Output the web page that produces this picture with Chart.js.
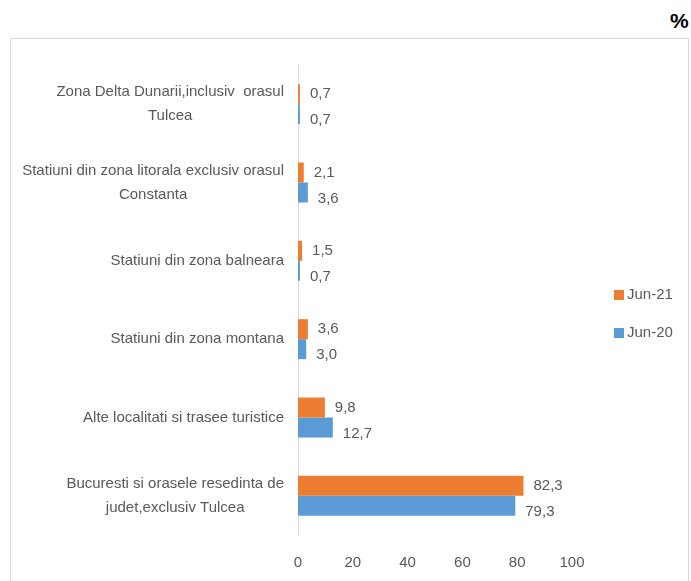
<!DOCTYPE html>
<html>
<head>
<meta charset="utf-8">
<script src="https://cdn.jsdelivr.net/npm/chart.js@4"></script>
<style>
  body { margin: 0; background: #fff; }
  #wrap { position: relative; width: 691px; height: 581px; overflow: hidden; }
  #frame { position: absolute; left: 10px; top: 38px; width: 677px; height: 600px; border: 1px solid #d9d9d9; }
  #pct { position: absolute; left: 670px; top: 9px; font: bold 21px "Liberation Sans", Arial, sans-serif; color: #000; }
  canvas { position: absolute; left: 0; top: 0; }
</style>
</head>
<body>
<div id="wrap">
  <div id="frame"></div>
  <div id="pct">%</div>
  <canvas id="chart" width="691" height="601"></canvas>
</div>
<script>
let categories = [
    ["Zona Delta Dunarii,inclusiv  orasul", "Tulcea"],
    ["Statiuni din zona litorala exclusiv orasul", "Constanta"],
    ["Statiuni din zona balneara"],
    ["Statiuni din zona montana"],
    ["Alte localitati si trasee turistice"],
    ["Bucuresti si orasele resedinta de", "judet,exclusiv Tulcea"]
];
let seriesNames = ["Jun-21", "Jun-20"];
let jun21 = [0.7, 2.1, 1.5, 3.6, 9.8, 82.3];
let jun20 = [0.7, 3.6, 0.7, 3.0, 12.7, 79.3];
let xTicks = [0, 20, 40, 60, 80, 100];

let textFont = '"Liberation Sans Narrow", "Arial Narrow", sans-serif';
let textColor = '#595959';

// etichete categorii (centrate pe randuri, aliniate la dreapta ca bloc)
const categoryLabels = {
    id: 'categoryLabels',
    afterDraw(chart) {
        let ctx = chart.ctx;
        let yScale = chart.scales.y;
        let right = chart.chartArea.left - 14;
        ctx.save();
        ctx.font = '15px ' + textFont;
        ctx.fillStyle = textColor;
        ctx.textBaseline = 'middle';
        ctx.textAlign = 'center';
        categories.forEach(function(lines, i) {
            let widest = Math.max.apply(null, lines.map(l => ctx.measureText(l).width));
            let cx = right - widest / 2;
            let cy = yScale.getPixelForValue(i);
            let top = cy - (lines.length - 1) * 12;
            lines.forEach(function(line, j) {
                ctx.fillText(line, cx, top + j * 24);
            });
        });
        ctx.restore();
    }
};

// valorile de pe bare
const valueLabels = {
    id: 'valueLabels',
    afterDatasetsDraw(chart) {
        let ctx = chart.ctx;
        ctx.save();
        ctx.font = '15px ' + textFont;
        ctx.fillStyle = textColor;
        ctx.textBaseline = 'middle';
        ctx.textAlign = 'left';
        chart.data.datasets.forEach(function(ds, di) {
            let meta = chart.getDatasetMeta(di);
            meta.data.forEach(function(bar, i) {
                let txt = ds.data[i].toFixed(1).replace('.', ',');
                let dy = di === 1 ? 6 : 0;
                ctx.fillText(txt, bar.x + 10, bar.y + dy);
            });
        });
        ctx.restore();
    }
};

// legenda in dreapta
const sideLegend = {
    id: 'sideLegend',
    afterDraw(chart) {
        let ctx = chart.ctx;
        ctx.save();
        ctx.font = '15px ' + textFont;
        ctx.textBaseline = 'middle';
        ctx.textAlign = 'left';
        chart.data.datasets.forEach(function(ds, i) {
            let y = 295 + i * 38;
            ctx.fillStyle = ds.backgroundColor;
            ctx.fillRect(614, y - 5, 10, 10);
            ctx.fillStyle = textColor;
            ctx.fillText(ds.label, 627, y);
        });
        ctx.restore();
    }
};

let ctx = document.getElementById('chart').getContext('2d');
new Chart(ctx, {
    type: 'bar',
    data: {
        labels: categories,
        datasets: [
            { label: seriesNames[0], data: jun21, backgroundColor: '#ED7D31' },
            { label: seriesNames[1], data: jun20, backgroundColor: '#5B9BD5' }
        ]
    },
    options: {
        indexAxis: 'y',
        responsive: false,
        animation: false,
        layout: { padding: { left: 298, right: 119, top: 65, bottom: 10 } },
        datasets: { bar: { categoryPercentage: 0.51, barPercentage: 1.0 } },
        plugins: { legend: { display: false }, tooltip: { enabled: false } },
        scales: {
            x: {
                min: xTicks[0],
                max: xTicks[xTicks.length - 1],
                afterBuildTicks(scale) { scale.ticks = xTicks.map(v => ({ value: v })); },
                grid: { display: false, drawTicks: false },
                border: { display: false },
                ticks: { padding: 19, color: textColor, font: { family: textFont, size: 15 } }
            },
            y: {
                grid: { display: false, drawTicks: false },
                border: { display: true, color: '#d9d9d9', width: 1 },
                ticks: { display: false }
            }
        }
    },
    plugins: [categoryLabels, valueLabels, sideLegend]
});
</script>
</body>
</html>
